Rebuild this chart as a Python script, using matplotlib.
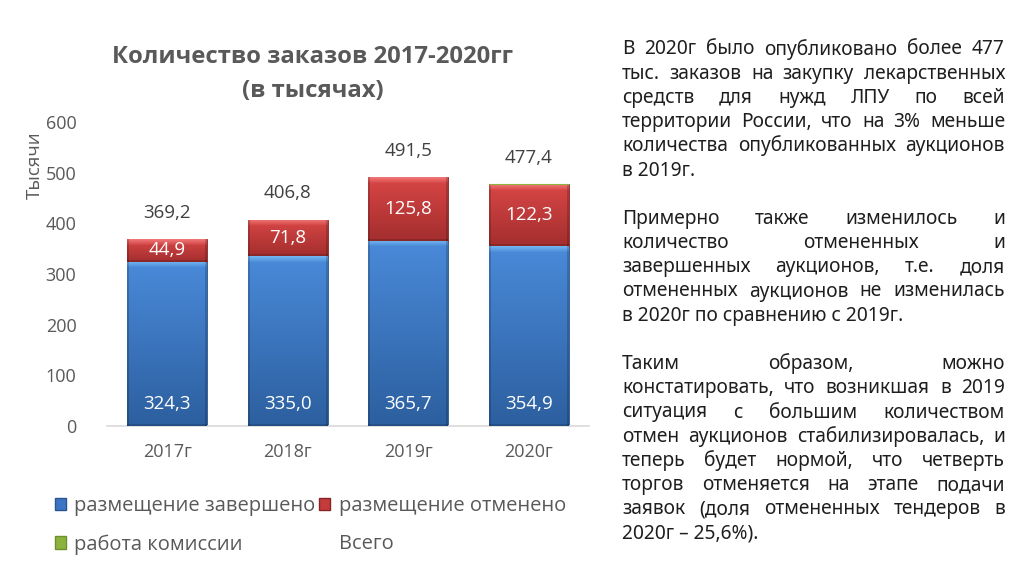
"""
Количество заказов 2017-2020гг: stacked bars with gradient fill + justified text block.
"""

import numpy as np
import matplotlib.pyplot as plt
from matplotlib.colors import to_rgb
from matplotlib.patches import Patch

plt.rcParams.update({
    'font.family': ['Open Sans', 'DejaVu Sans'],
    'font.size': 13,
})

# ---- data ----
years = ['2017г', '2018г', '2019г', '2020г']
completed = [324.3, 335.0, 365.7, 354.9]   # размещение завершено
cancelled = [44.9, 71.8, 125.8, 122.3]     # размещение отменено
commission = [0.0, 0.0, 0.0, 0.2]          # работа комиссии
totals = [369.2, 406.8, 491.5, 477.4]      # Всего

text_font = ['Noto Sans', 'DejaVu Sans']
paragraphs = [
    ['В 2020г было опубликовано более 477',
     'тыс. заказов на закупку лекарственных',
     'средств для нужд ЛПУ по всей',
     'территории России, что на 3% меньше',
     'количества опубликованных аукционов',
     'в 2019г.'],
    ['Примерно также изменилось и',
     'количество отмененных и',
     'завершенных аукционов, т.е. доля',
     'отмененных аукционов не изменилась',
     'в 2020г по сравнению с 2019г.'],
    ['Таким образом, можно',
     'констатировать, что возникшая в 2019',
     'ситуация с большим количеством',
     'отмен аукционов стабилизировалась, и',
     'теперь будет нормой, что четверть',
     'торгов отменяется на этапе подачи',
     'заявок (доля отмененных тендеров в',
     '2020г – 25,6%).'],
]

W, H = 1034, 580
fig = plt.figure(figsize=(W / 100, H / 100), dpi=100)
ax = fig.add_axes([107 / W, 1 - 426 / H, 482 / W, 304 / H])

x = np.arange(len(years))
bar_w = 0.66
px_per_unit = 304 / 600


def fill_gradient(patches, top_c, bot_c, hi_c, zorder):
    top_c, bot_c, hi_c = map(lambda c: np.array(to_rgb(c)), (top_c, bot_c, hi_c))
    for p in patches:
        x0, y0 = p.get_x(), p.get_y()
        w, h = p.get_width(), p.get_height()
        if h <= 0:
            continue
        rows = max(2, int(round(h * px_per_unit)))
        cols = 80
        t = np.linspace(0, 1, rows)[:, None]
        img = top_c * (1 - t) + bot_c * t
        img = np.repeat(img[:, None, :], cols, axis=1)
        # top bevel highlight
        nb = min(6, rows // 2)
        for r in range(nb):
            a = 1 - r / max(nb, 1)
            img[r] = img[r] * (1 - 0.8 * a) + hi_c * 0.8 * a
        # darker sides and bottom
        img[:, :2] *= 0.82
        img[:, -2:] *= 0.82
        img[-2:] *= 0.85
        im = ax.imshow(img, extent=[x0, x0 + w, y0, y0 + h], aspect='auto',
                       zorder=zorder, interpolation='bilinear')
        im.set_clip_path(p)


b1 = ax.bar(x, completed, bar_w, color='#3b76c6', edgecolor='#2a5590',
            linewidth=0.6, zorder=2)
fill_gradient(b1, '#4a8ad9', '#2c5f9f', '#7cc0f6', 3)
b2 = ax.bar(x, cancelled, bar_w, bottom=completed, color='#c33b3b',
            edgecolor='#8a2424', linewidth=0.6, zorder=2)
fill_gradient(b2, '#d84646', '#a42e2e', '#f58080', 3)
bottom3 = [c + d for c, d in zip(completed, cancelled)]
b3 = ax.bar(x, commission, bar_w, bottom=bottom3, color='#8cb33e',
            edgecolor='#8cb33e', linewidth=0.8, zorder=4)
for bar, v in zip(b3, commission):
    if v == 0:
        bar.set_visible(False)

fmt = lambda v: f'{v:.1f}'.replace('.', ',')

for xi, v in zip(x, completed):
    ax.annotate(fmt(v), (xi, 0), xytext=(0, 16), textcoords='offset points',
                ha='center', va='center', color='white', fontsize=13.5, zorder=6)
for xi, b, v in zip(x, completed, cancelled):
    ax.text(xi, b + v / 2, fmt(v), ha='center', va='center', color='white',
            fontsize=13.5, zorder=6)
for xi, v in zip(x, totals):
    ax.annotate(fmt(v), (xi, v), xytext=(0, 19), textcoords='offset points',
                ha='center', va='center', color='#404040', fontsize=13.5)

ax.set_xlim(-0.5, len(years) - 0.5)
ax.set_ylim(0, 600)
ax.set_yticks(range(0, 601, 100))
ax.set_xticks(x)
ax.set_xticklabels(years)
ax.tick_params(axis='both', length=0, colors='#595959', labelsize=13)
ax.tick_params(axis='x', pad=12)
ax.tick_params(axis='y', pad=22)
for s in ['top', 'right', 'left']:
    ax.spines[s].set_visible(False)
ax.spines['bottom'].set_color('#d9d9d9')
ax.spines['bottom'].set_linewidth(1.2)
ax.set_facecolor('none')

fig.text(35 / W, 1 - 165 / H, 'Тысячи', rotation=90, ha='center', va='center',
         color='#595959', fontsize=13.5)
fig.text(313 / W, 1 - 74 / H, 'Количество заказов 2017-2020гг\n(в тысячах)',
         ha='center', va='center', color='#595959', fontsize=17.2,
         fontweight='bold', linespacing=1.6)

handles = [Patch(facecolor='#3b76c6', edgecolor='#2a5590'),
           Patch(facecolor='#8cb33e', edgecolor='#6d8f2c'),
           Patch(facecolor='#c33b3b', edgecolor='#8a2424'),
           Patch(facecolor='none', edgecolor='none')]
labels = ['размещение завершено', 'работа комиссии', 'размещение отменено',
          'Всего']
fig.legend(handles, labels, ncol=2, loc='upper left',
           bbox_to_anchor=(55 / W, 1 - 496 / H), frameon=False, fontsize=14.5,
           borderpad=0, borderaxespad=0,
           handlelength=0.55, handleheight=0.55, handletextpad=0.4,
           columnspacing=0.2, labelspacing=0.9, labelcolor='#595959')

# ---- justified text block on the right ----
renderer = fig.canvas.get_renderer()
left_px, right_px = 622, 1005
base0, step = 54.5, 24.2
fs = 13.8
line_idx = 0
for para in paragraphs:
    for k, line in enumerate(para):
        y = 1 - (base0 + line_idx * step) / H
        if k == len(para) - 1:
            fig.text(left_px / W, y, line, fontsize=fs, family=text_font,
                     color='#1e1e1e', va='baseline')
        else:
            words = line.split(' ')
            objs = [fig.text(0, y, w, fontsize=fs, family=text_font,
                             color='#1e1e1e', va='baseline') for w in words]
            widths = [o.get_window_extent(renderer).width for o in objs]
            gap = (right_px - left_px - sum(widths)) / (len(words) - 1)
            pos = left_px
            for o, wd in zip(objs, widths):
                o.set_x(pos / W)
                pos += wd + gap
        line_idx += 1
    line_idx += 1

fig.savefig('out.png', dpi=100)
